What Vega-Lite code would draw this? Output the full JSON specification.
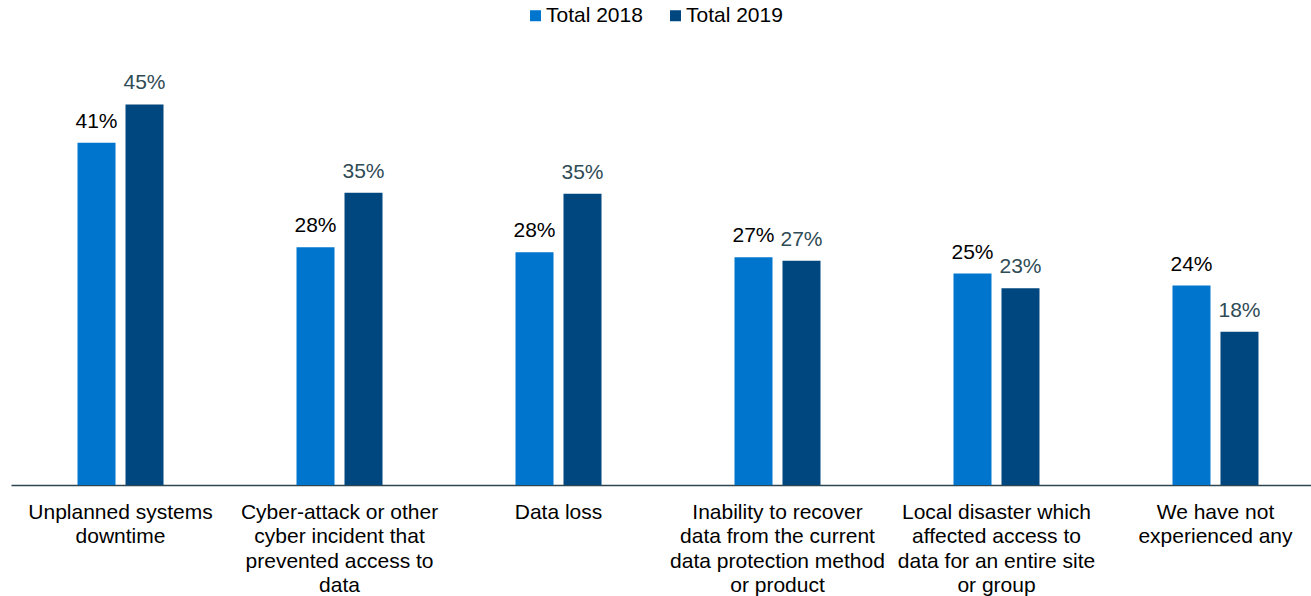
{
  "$schema": "https://vega.github.io/schema/vega-lite/v6.json",
  "width": 1314,
  "height": 423,
  "autosize": {"type": "none"},
  "padding": {"left": 11, "top": 62, "right": 0, "bottom": 111},
  "config": {"view": {"stroke": null}, "font": "Liberation Sans"},
  "data": {
    "values": [
      {"category": "Unplanned systems|downtime", "series": "Total 2018", "value": 40.45, "label": "41%"},
      {"category": "Unplanned systems|downtime", "series": "Total 2019", "value": 44.98, "label": "45%"},
      {"category": "Cyber-attack or other|cyber incident that|prevented access to|data", "series": "Total 2018", "value": 28.11, "label": "28%"},
      {"category": "Cyber-attack or other|cyber incident that|prevented access to|data", "series": "Total 2019", "value": 34.54, "label": "35%"},
      {"category": "Data loss", "series": "Total 2018", "value": 27.52, "label": "28%"},
      {"category": "Data loss", "series": "Total 2019", "value": 34.42, "label": "35%"},
      {"category": "Inability to recover|data from the current|data protection method|or product", "series": "Total 2018", "value": 26.93, "label": "27%"},
      {"category": "Inability to recover|data from the current|data protection method|or product", "series": "Total 2019", "value": 26.5, "label": "27%"},
      {"category": "Local disaster which|affected access to|data for an entire site|or group", "series": "Total 2018", "value": 25.0, "label": "25%"},
      {"category": "Local disaster which|affected access to|data for an entire site|or group", "series": "Total 2019", "value": 23.26, "label": "23%"},
      {"category": "We have not|experienced any", "series": "Total 2018", "value": 23.58, "label": "24%"},
      {"category": "We have not|experienced any", "series": "Total 2019", "value": 18.11, "label": "18%"}
    ]
  },
  "encoding": {
    "x": {
      "field": "category",
      "type": "nominal",
      "sort": null,
      "scale": {"paddingInner": 0.6073, "paddingOuter": 0.3037},
      "axis": {
        "title": null,
        "domain": true,
        "domainColor": "#2E4650",
        "domainWidth": 1.5,
        "ticks": false,
        "labelAngle": 0,
        "labelFontSize": 21,
        "labelColor": "#000000",
        "labelPadding": 16,
        "labelLineHeight": 24.5,
        "labelBaseline": "top",
        "labelLimit": 0,
        "labelOverlap": false,
        "labelExpr": "split(datum.value, '|')"
      }
    },
    "xOffset": {
      "field": "series",
      "type": "nominal",
      "sort": ["Total 2018", "Total 2019"],
      "scale": {"paddingInner": 0.2083, "paddingOuter": 0}
    },
    "y": {
      "field": "value",
      "type": "quantitative",
      "scale": {"domain": [0, 50]},
      "axis": null
    }
  },
  "layer": [
    {
      "mark": {"type": "bar"},
      "encoding": {
        "color": {
          "field": "series",
          "type": "nominal",
          "scale": {"domain": ["Total 2018", "Total 2019"], "range": ["#0075CE", "#00467F"]},
          "legend": {
            "title": null,
            "orient": "none",
            "legendX": 514,
            "legendY": -57,
            "direction": "horizontal",
            "symbolType": "square",
            "symbolSize": 121,
            "symbolStrokeWidth": 0,
            "labelFontSize": 21,
            "labelColor": "#000000",
            "labelOffset": 0,
            "columnPadding": 22
          }
        }
      }
    },
    {
      "mark": {"type": "text", "baseline": "alphabetic", "dy": -15, "fontSize": 21},
      "encoding": {
        "text": {"field": "label"},
        "color": {
          "condition": {"test": "datum.series === 'Total 2019'", "value": "#2F4B55"},
          "value": "#000000"
        }
      }
    }
  ]
}
